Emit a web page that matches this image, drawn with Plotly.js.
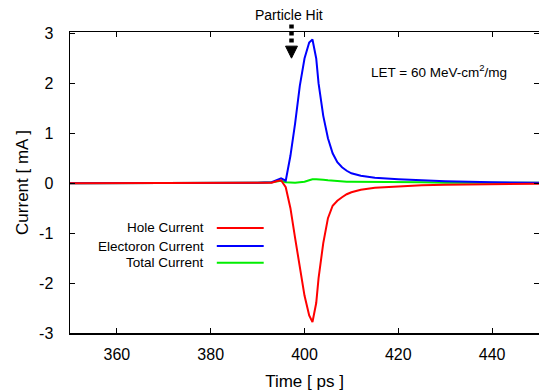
<!DOCTYPE html>
<html>
<head>
<meta charset="utf-8">
<script src="https://cdn.plot.ly/plotly-3.0.1.min.js"></script>
<style>html,body{margin:0;padding:0;background:#fff;}#chart{width:539px;height:391px;}</style>
</head>
<body>
<div id="chart"></div>
<script>
// Time axis (ps)
var time = [350, 360, 370, 380, 390, 393, 394, 395, 396, 397, 398, 399, 400, 401, 401.7, 402.5, 403, 404, 405, 406, 407, 408, 409, 410, 412, 415, 420, 425, 430, 440, 450];
// Currents (mA)
var holeCurrent = [0, 0, 0, 0, 0, 0.01, 0.04, 0.06, -0.08, -0.5, -1.1, -1.7, -2.25, -2.65, -2.78, -2.4, -1.9, -1.2, -0.7, -0.45, -0.35, -0.28, -0.22, -0.18, -0.13, -0.09, -0.06, -0.04, -0.03, -0.02, -0.01];
var electronCurrent = [0, 0, 0, 0, 0.01, 0.02, 0.06, 0.1, 0.05, 0.55, 1.2, 1.95, 2.5, 2.82, 2.88, 2.5, 2.0, 1.35, 0.9, 0.6, 0.42, 0.32, 0.25, 0.2, 0.15, 0.11, 0.08, 0.06, 0.04, 0.02, 0.01];
var totalCurrent = [0, 0, 0, 0, 0.01, 0.02, 0.04, 0.05, 0.02, 0.01, 0.01, 0.02, 0.03, 0.06, 0.08, 0.08, 0.08, 0.07, 0.06, 0.05, 0.04, 0.04, 0.03, 0.03, 0.03, 0.02, 0.02, 0.02, 0.01, 0.01, 0.01];

var seriesNames = ['Hole Current', 'Electoron Current', 'Total Current'];
var seriesColors = ['#ff0000', '#0000ff', '#00ee00'];
var seriesData = [holeCurrent, electronCurrent, totalCurrent];

var xTicks = [360, 380, 400, 420, 440];
var yTicks = [-3, -2, -1, 0, 1, 2, 3];

var font = 'Arial, "Liberation Sans", sans-serif';

var traces = [totalCurrent, electronCurrent, holeCurrent].map(function (d) {
  var i = seriesData.indexOf(d);
  return {
    x: time, y: d, type: 'scatter', mode: 'lines', name: seriesNames[i],
    line: {color: seriesColors[i], width: 2}, showlegend: false
  };
});

// manual legend (text left of the line sample, as in the reference)
var annotations = [];
var shapes = [];
var legY = [0.349, 0.289, 0.233];
seriesNames.forEach(function (n, i) {
  annotations.push({xref: 'paper', yref: 'paper', x: 0.291, y: legY[i], xanchor: 'right', yanchor: 'middle',
    text: n, showarrow: false, font: {family: font, size: 13.5, color: '#000'}});
  shapes.push({type: 'line', xref: 'paper', yref: 'paper', x0: 0.313, x1: 0.413, y0: legY[i], y1: legY[i],
    line: {color: seriesColors[i], width: 2}});
});
annotations.push({xref: 'paper', yref: 'paper', x: 0.468, y: 1.055, xanchor: 'center', yanchor: 'middle',
  text: 'Particle Hit', showarrow: false, font: {family: font, size: 14, color: '#000'}});
annotations.push({xref: 'paper', yref: 'paper', x: 0.638, y: 0.87, xanchor: 'left', yanchor: 'middle',
  text: 'LET = 60 MeV-cm<sup>2</sup>/mg', showarrow: false, font: {family: font, size: 13.5, color: '#000'}});
// dashed arrow
shapes.push({type: 'line', xref: 'paper', yref: 'paper', x0: 0.4723, x1: 0.4723, y0: 1.025, y1: 0.955,
  line: {color: '#000', width: 4.5, dash: '4px,3px'}});
shapes.push({type: 'path', xref: 'paper', yref: 'paper', path: 'M0.4596,0.953 L0.4850,0.953 L0.4723,0.913 Z',
  fillcolor: '#000', line: {color: '#000', width: 1}});

var layout = {
  width: 539, height: 391,
  margin: {l: 70, r: 0, t: 32, b: 58},
  paper_bgcolor: '#fff', plot_bgcolor: '#fff',
  showlegend: false,
  xaxis: {
    range: [350, 450], tickvals: xTicks, ticktext: xTicks.map(String),
    ticks: 'inside', ticklen: 5, tickwidth: 1, tickcolor: '#000',
    showline: true, linecolor: '#000', linewidth: 1.5, mirror: 'ticks',
    showgrid: false, zeroline: false,
    tickfont: {family: font, size: 16, color: '#000'}, ticklabelstandoff: 6,
    title: {text: 'Time [ ps ]', font: {family: font, size: 17, color: '#000'}, standoff: 13}
  },
  yaxis: {
    range: [-3, 3.03], tickvals: yTicks, ticktext: yTicks.map(String),
    ticks: 'inside', ticklen: 5, tickwidth: 1, tickcolor: '#000',
    showline: true, linecolor: '#000', linewidth: 1.5, mirror: 'ticks',
    showgrid: false, zeroline: false,
    tickfont: {family: font, size: 16, color: '#000'}, ticklabelstandoff: 12,
    title: {text: 'Current [ mA ]', font: {family: font, size: 17, color: '#000'}, standoff: 6}
  },
  annotations: annotations,
  shapes: shapes
};

Plotly.newPlot('chart', traces, layout, {staticPlot: true, displayModeBar: false});
</script>
</body>
</html>
